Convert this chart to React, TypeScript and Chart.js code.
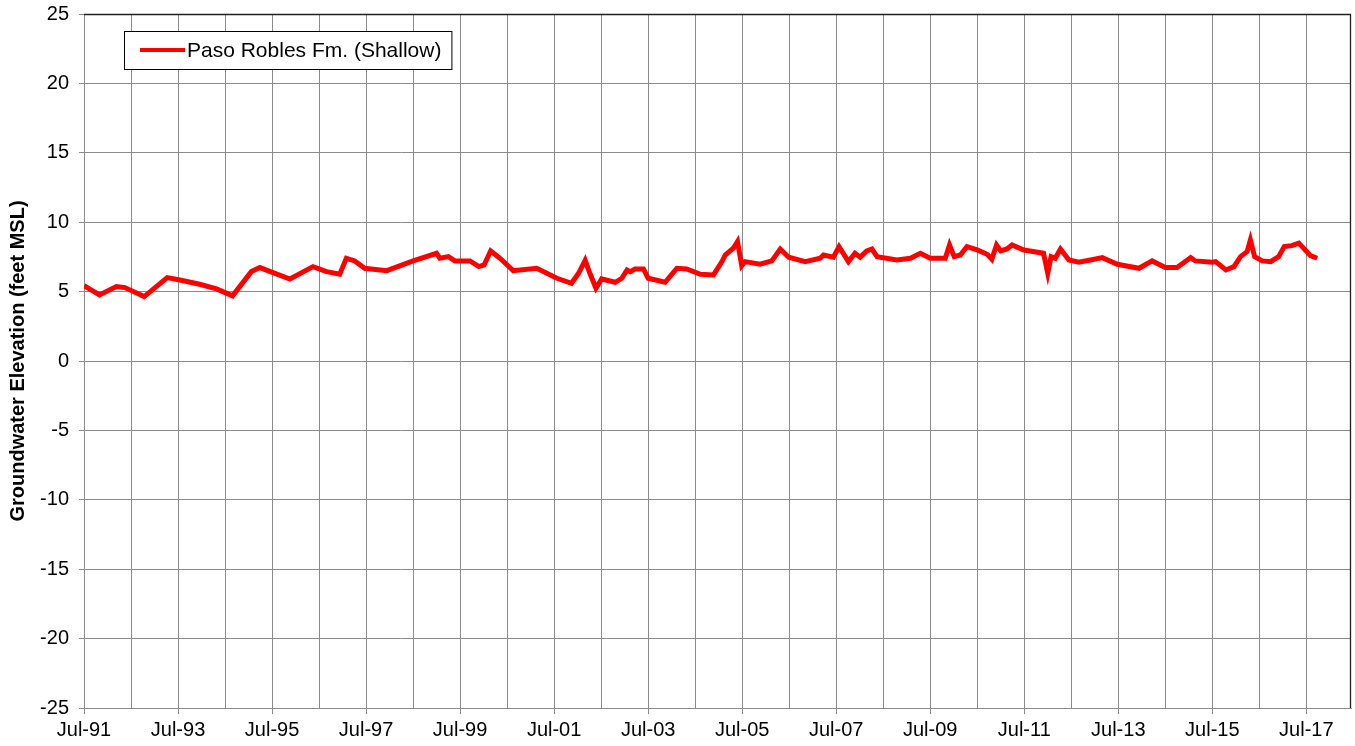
import React, { useEffect, useRef } from "react";
import { Chart, registerables } from "chart.js";

Chart.register(...registerables);

// Decimal-year sample dates (Jul-91 = 1991.5)
const DATES = [
  1991.5, 1991.83, 1992.19, 1992.37, 1992.78, 1993.27, 1993.54, 1993.96, 1994.32, 1994.66,
  1995.06, 1995.24, 1995.52, 1995.88, 1996.37, 1996.66, 1996.94, 1997.08, 1997.26, 1997.47,
  1997.94, 1998.5, 1999.0, 1999.07, 1999.25, 1999.39, 1999.71, 1999.9, 2000.01, 2000.15,
  2000.35, 2000.63, 2001.13, 2001.56, 2001.87, 2002.02, 2002.16, 2002.26, 2002.39, 2002.51,
  2002.8, 2002.94, 2003.05, 2003.12, 2003.22, 2003.4, 2003.5, 2003.86, 2004.11, 2004.32,
  2004.61, 2004.89, 2005.07, 2005.14, 2005.31, 2005.4, 2005.49, 2005.56, 2005.88, 2006.13,
  2006.31, 2006.49, 2006.84, 2007.16, 2007.23, 2007.44, 2007.56, 2007.76, 2007.9, 2008.01,
  2008.15, 2008.26, 2008.37, 2008.79, 2009.08, 2009.29, 2009.5, 2009.82, 2009.91, 2010.01,
  2010.14, 2010.28, 2010.5, 2010.71, 2010.81, 2010.91, 2011.0, 2011.13, 2011.24, 2011.49,
  2011.91, 2012.0, 2012.07, 2012.16, 2012.27, 2012.45, 2012.66, 2012.91, 2013.16, 2013.48,
  2013.94, 2014.22, 2014.5, 2014.75, 2015.04, 2015.14, 2015.5, 2015.57, 2015.79, 2015.96,
  2016.1, 2016.24, 2016.31, 2016.4, 2016.56, 2016.74, 2016.91, 2017.03, 2017.19, 2017.34,
  2017.59, 2017.73,
];

// Groundwater elevation (feet MSL)
const LEVELS = [
  5.43, 4.76, 5.36, 5.29, 4.64, 6.01, 5.84, 5.53, 5.19, 4.69,
  6.44, 6.73, 6.37, 5.91, 6.8, 6.44, 6.25, 7.4, 7.21, 6.68,
  6.51, 7.21, 7.76, 7.4, 7.52, 7.21, 7.21, 6.8, 6.92, 7.93,
  7.4, 6.51, 6.68, 5.96, 5.6, 6.32, 7.25, 6.32, 5.24, 5.91,
  5.67, 5.96, 6.56, 6.44, 6.63, 6.63, 5.96, 5.67, 6.68, 6.63,
  6.25, 6.2, 7.16, 7.64, 8.12, 8.6, 6.87, 7.16, 6.97, 7.21,
  8.07, 7.48, 7.16, 7.4, 7.64, 7.48, 8.24, 7.16, 7.76, 7.48,
  7.93, 8.07, 7.52, 7.28, 7.4, 7.76, 7.4, 7.4, 8.36, 7.52,
  7.64, 8.24, 8.0, 7.69, 7.33, 8.36, 7.93, 8.07, 8.36, 8.0,
  7.76, 6.32, 7.52, 7.4, 8.07, 7.28, 7.12, 7.28, 7.45, 6.97,
  6.68, 7.21, 6.73, 6.73, 7.45, 7.21, 7.12, 7.16, 6.56, 6.8,
  7.52, 7.88, 8.72, 7.52, 7.21, 7.16, 7.52, 8.24, 8.31, 8.49,
  7.59, 7.4,
];

const SERIES_LABEL = "Paso Robles Fm. (Shallow)";
const Y_TITLE = "Groundwater Elevation (feet MSL)";
const X_MIN = 1991.5;
const X_MAX = 2018.45;
const X_GRID_YEARS = Array.from({ length: 27 }, (_, i) => 1991.5 + i);
const Y_MIN = -25;
const Y_MAX = 25;
const Y_STEP = 5;

const FONT = "'Liberation Sans', Arial, sans-serif";

function xLabel(v: number): string {
  const idx = Math.round(v - X_MIN);
  if (idx % 2 !== 0) return "";
  const yr = Math.floor(v) % 100;
  return "Jul-" + (yr < 10 ? "0" + yr : String(yr));
}

const framePlugin = {
  id: "frameAndLegend",
  afterDraw(chart: any) {
    const { ctx, chartArea } = chart;
    const { left, top, right, bottom } = chartArea;
    ctx.save();
    // dark top/right frame
    ctx.strokeStyle = "#202020";
    ctx.lineWidth = 1.3;
    ctx.beginPath();
    ctx.moveTo(left, top + 0.5);
    ctx.lineTo(right - 0.5, top + 0.5);
    ctx.lineTo(right - 0.5, bottom);
    ctx.stroke();

    // legend box
    const label = chart.data.datasets[0].label;
    ctx.font = "21px " + FONT;
    const tw = ctx.measureText(label).width;
    const bx = left + 40;
    const by = top + 17;
    const bw = 16 + 45 + 2 + tw + 10;
    const bh = 38;
    ctx.fillStyle = "#ffffff";
    ctx.fillRect(bx, by, bw, bh);
    ctx.strokeStyle = "#000000";
    ctx.lineWidth = 1;
    ctx.strokeRect(bx + 0.5, by + 0.5, bw, bh);
    ctx.strokeStyle = "#ff0000";
    ctx.lineWidth = 4;
    ctx.beginPath();
    ctx.moveTo(bx + 16, by + bh / 2);
    ctx.lineTo(bx + 61, by + bh / 2);
    ctx.stroke();
    ctx.fillStyle = "#000000";
    ctx.textBaseline = "middle";
    ctx.textAlign = "left";
    ctx.fillText(label, bx + 63, by + bh / 2 + 1);
    ctx.restore();
  },
};

export default function App() {
  const canvasRef = useRef<HTMLCanvasElement | null>(null);

  useEffect(() => {
    if (!canvasRef.current) return;
    const points = DATES.map((d, i) => ({ x: d, y: LEVELS[i] }));
    const chart = new Chart(canvasRef.current, {
      type: "line",
      data: {
        datasets: [
          {
            label: SERIES_LABEL,
            data: points,
            borderColor: "#ff0000",
            backgroundColor: "#ff0000",
            borderWidth: 5,
            pointRadius: 0,
            tension: 0,
            fill: false,
          },
        ],
      },
      options: {
        animation: false,
        responsive: true,
        maintainAspectRatio: false,
        layout: { padding: { top: 14, right: 4, left: 0, bottom: 0 } },
        plugins: {
          legend: { display: false },
          tooltip: { enabled: false },
        },
        scales: {
          x: {
            type: "linear",
            min: X_MIN,
            max: X_MAX,
            afterBuildTicks: (axis: any) => {
              axis.ticks = X_GRID_YEARS.map((v) => ({ value: v }));
            },
            afterFit: (axis: any) => {
              axis.height = 38;
              axis.paddingLeft = 0;
              axis.paddingRight = 0;
            },
            ticks: {
              autoSkip: false,
              maxRotation: 0,
              minRotation: 0,
              padding: 4,
              color: "#000",
              font: { family: FONT, size: 20 },
              callback: (v: any) => xLabel(Number(v)),
            },
            grid: {
              color: "#8a8a8a",
              lineWidth: 1,
              tickLength: 6,
              tickColor: (ctx: any) =>
                ctx.tick && xLabel(ctx.tick.value) !== "" ? "#8a8a8a" : "rgba(0,0,0,0)",
            },
            border: { display: true, color: "#8a8a8a", width: 1 },
          },
          y: {
            type: "linear",
            min: Y_MIN,
            max: Y_MAX,
            afterFit: (axis: any) => {
              axis.width = 84;
              axis.paddingTop = 0;
              axis.paddingBottom = 0;
            },
            ticks: {
              stepSize: Y_STEP,
              padding: 10,
              color: "#000",
              font: { family: FONT, size: 20 },
            },
            grid: {
              color: "#8a8a8a",
              lineWidth: 1,
              tickLength: 5,
            },
            border: { display: true, color: "#8a8a8a", width: 1 },
            title: {
              display: true,
              text: Y_TITLE,
              color: "#000",
              font: { family: FONT, size: 20, weight: "bold" },
              padding: { top: 6, bottom: 0 },
            },
          },
        },
      },
      plugins: [framePlugin],
    } as any);
    return () => chart.destroy();
  }, []);

  return (
    <div style={{ position: "absolute", left: 0, top: 0, width: 1355, height: 746, background: "#fff" }}>
      <canvas ref={canvasRef} />
    </div>
  );
}
